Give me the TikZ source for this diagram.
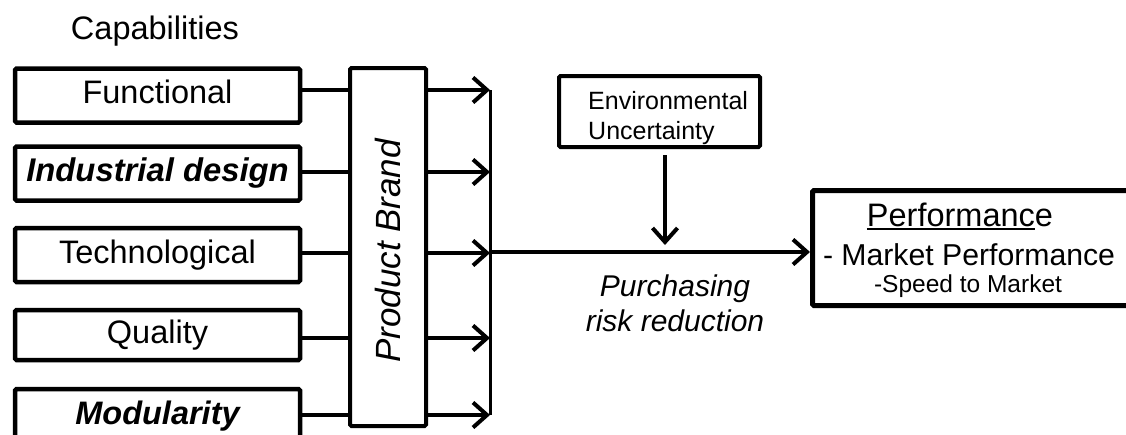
\documentclass[tikz,border=0pt]{standalone}
\usepackage{fontspec}
\setmainfont{Liberation Sans}
\usetikzlibrary{arrows.meta,calc}
\newcommand\ulpf[1]{\setbox0\hbox{#1}\rlap{\rule[-3.5pt]{\wd0}{2pt}}\box0}
\begin{document}
\begin{tikzpicture}[x=1pt,y=-1pt,
  capbox/.style={draw, line width=4.5pt, rounded corners=1.5pt, minimum width=285pt,
    minimum height=54pt, inner sep=0pt, text height=23pt, text depth=6.5pt,
    font=\fontsize{32.5}{36}\selectfont},
  link/.style={line width=4pt},
  arr/.style={line width=4pt, -{Straight Barb[length=14pt,width=25pt]}},
  txt/.style={inner sep=0pt},
]
\useasboundingbox (0,0) rectangle (1126,434);
% title
\node[txt, anchor=base, font=\fontsize{32.5}{36}\selectfont] (cap) at (155,39.3) {Capabilities};
% capability boxes
\node[capbox] (f) at (157.5,95.5) {Functional};
\node[capbox, font=\fontsize{32.8}{36}\selectfont\bfseries\itshape] (i) at (157.5,173.5) {Industrial design};
\node[capbox] (t) at (157.5,255) {Technological};
\node[capbox, minimum height=50pt] (q) at (157.5,335) {Quality};
\node[capbox, font=\fontsize{32.5}{36}\selectfont\bfseries\itshape] (m) at (157.5,416) {Modularity};
% product brand
\node[draw, line width=4pt, rounded corners=1.5pt, minimum width=76pt, minimum height=358pt, inner sep=0pt] (brand) at (388,247) {};
\node[txt, rotate=90, anchor=base, font=\fontsize{35}{38}\selectfont\itshape] (brandt) at (400,251) {Product Brand};
% rows
\coordinate (r1) at (0,90);
\coordinate (r2) at (0,172);
\coordinate (r3) at (0,253);
\coordinate (r4) at (0,338);
\coordinate (r5) at (0,415);
\coordinate (j) at (490,252);
\draw[link] (f.east |- r1) -- (brand.west |- r1);
\draw[link] (i.east |- r2) -- (brand.west |- r2);
\draw[link] (t.east |- r3) -- (brand.west |- r3);
\draw[link] (q.east |- r4) -- (brand.west |- r4);
\draw[link] (m.east |- r5) -- (brand.west |- r5);
\foreach \r in {r1,r2,r3,r4,r5}
  \draw[arr] (brand.east |- \r) -- (j |- \r);
\draw[line width=3pt] (j |- r1) -- (j |- r5);
% environmental uncertainty
\node[draw, line width=4pt, rounded corners=1.5pt, minimum width=201pt, minimum height=71pt, inner sep=0pt] (env) at (659.5,111.5) {};
\node[txt, anchor=west, align=left, font=\fontsize{25}{30}\selectfont] (envt) at (588,118.3) {Environmental\\Uncertainty};
% performance
\node[draw, line width=5pt, rounded corners=1.5pt, minimum width=327pt, minimum height=115pt, inner sep=0pt] (perf) at (976,248) {};
\node[txt, anchor=base, font=\fontsize{32.5}{36}\selectfont] (p1) at (960,226.7) {\ulpf{Performanc}e};
\node[txt, anchor=base, font=\fontsize{30.2}{35}\selectfont] (p2) at (969,265) {- Market Performance};
\node[txt, anchor=base, font=\fontsize{24.5}{28}\selectfont] (p3) at (968,292.7) {-Speed to Market};
% main arrow
\draw[arr] (j) -- (j -| perf.west);
\coordinate (mid) at (665,245);
\draw[arr] ([yshift=-6pt]mid |- env.south) -- (mid);
% purchasing label
\node[txt, align=center, font=\fontsize{30}{35}\selectfont\itshape] (pl) at (675,303.3) {Purchasing\\risk reduction};
\end{tikzpicture}
\end{document}
